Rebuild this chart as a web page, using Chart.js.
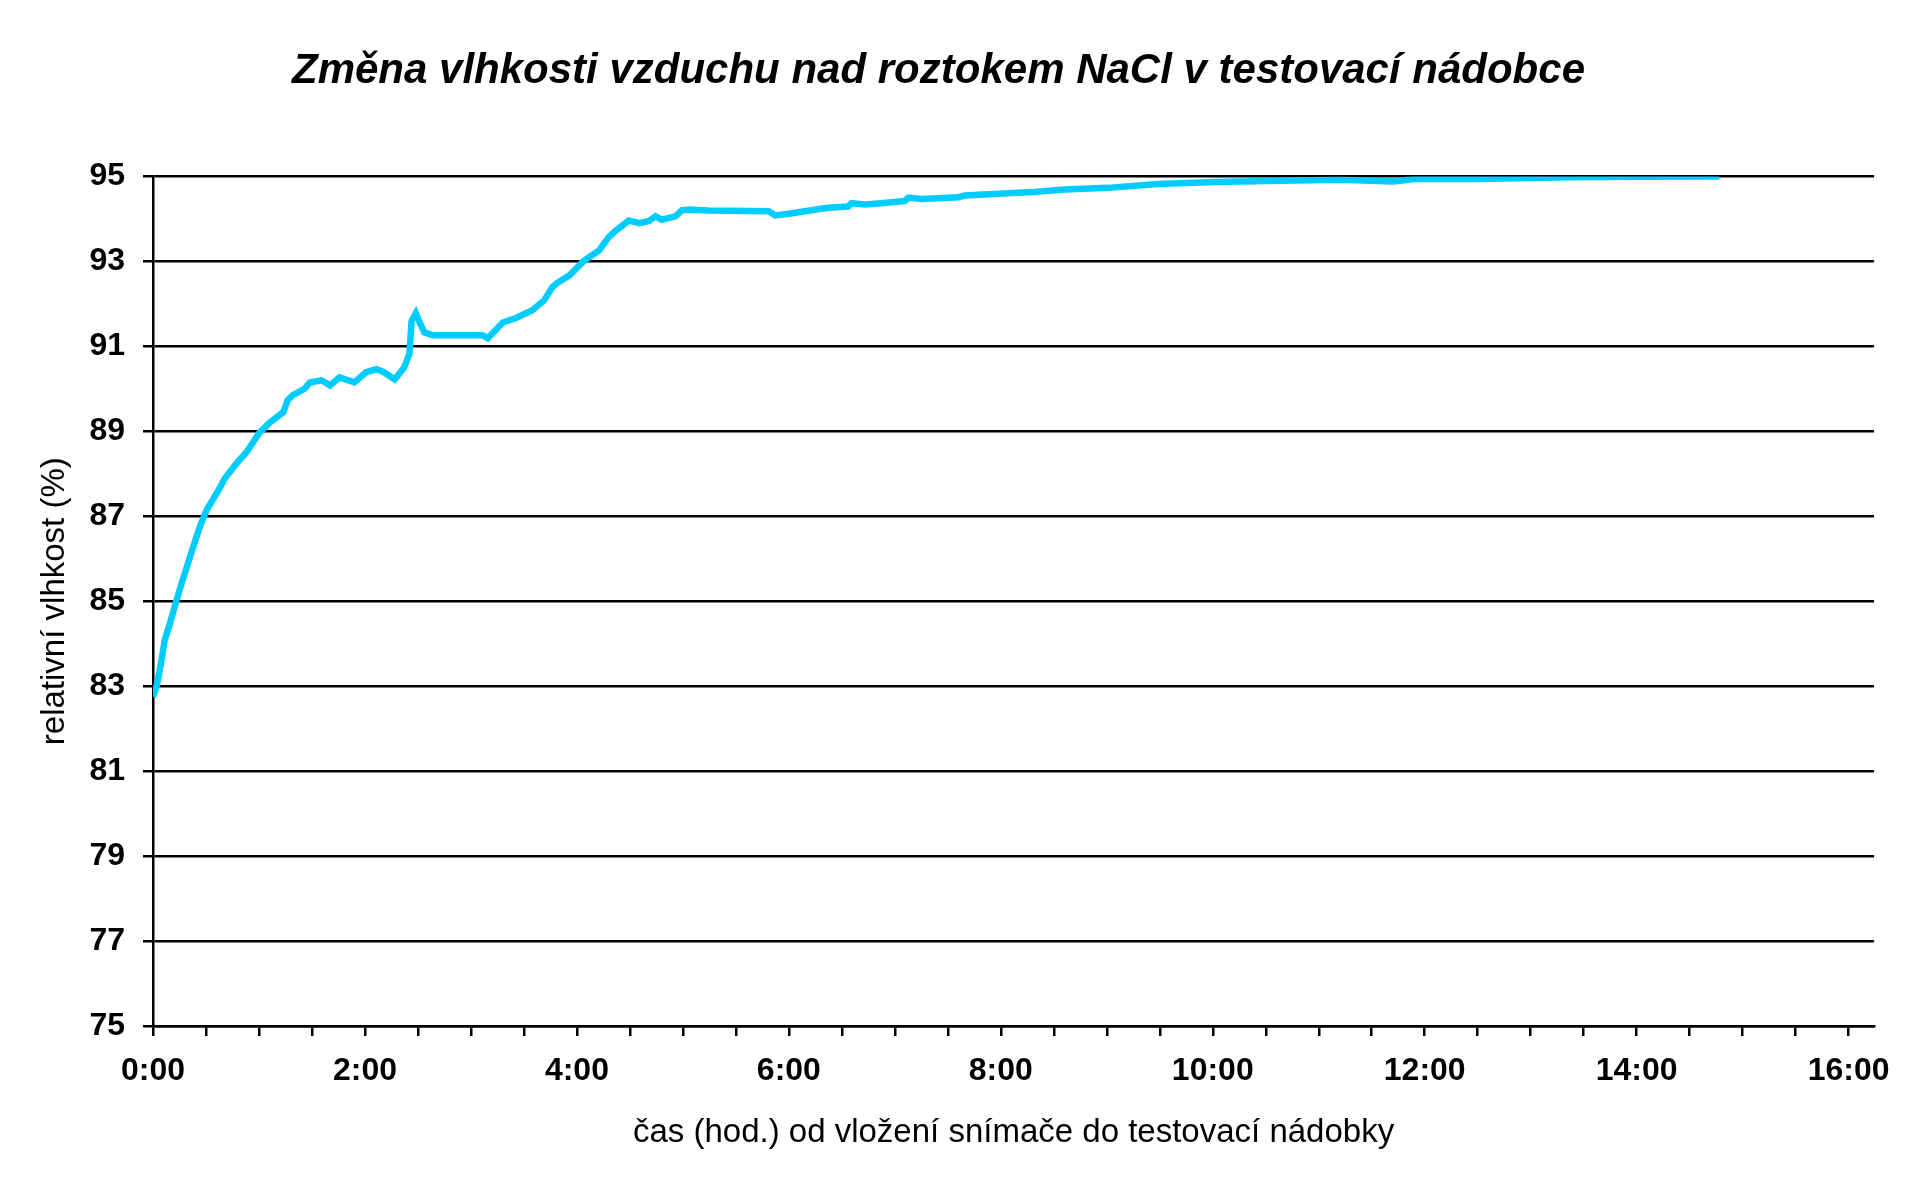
<!DOCTYPE html>
<html>
<head>
<meta charset="utf-8">
<script src="https://cdn.jsdelivr.net/npm/chart.js@4/dist/chart.umd.min.js"></script>
<style>
  html, body { margin: 0; padding: 0; background: #fff; }
  #wrap { width: 1906px; height: 1188px; }
</style>
</head>
<body>
<div id="wrap"><canvas id="chart"></canvas></div>
<script>
// hours since the sensor was put into the test vessel
const hours = [
  0.00, 0.035, 0.08, 0.11, 0.16, 0.22, 0.27, 0.35, 0.44, 0.505,
  0.615, 0.68, 0.79, 0.88, 1.00, 1.10, 1.23, 1.27, 1.32, 1.43,
  1.48, 1.59, 1.67, 1.76, 1.90, 2.01, 2.11, 2.18, 2.28, 2.37,
  2.42, 2.44, 2.48, 2.51, 2.56, 2.64, 3.11, 3.16, 3.30, 3.42,
  3.58, 3.69, 3.77, 3.82, 3.93, 4.06, 4.21, 4.30, 4.37, 4.49,
  4.59, 4.68, 4.74, 4.80, 4.93, 4.99, 5.06, 5.24, 5.81, 5.87,
  6.00, 6.15, 6.37, 6.56, 6.59, 6.72, 6.87, 7.09, 7.13, 7.25,
  7.60, 7.66, 7.98, 8.29, 8.60, 9.01, 9.48, 10.02, 10.64, 11.20,
  11.71, 11.90, 12.53, 13.34, 14.00, 14.78
];
// relative humidity (%)
const humidity = [
  82.75, 83.00, 83.60, 84.08, 84.48, 85.00, 85.42, 86.05, 86.74, 87.14,
  87.60, 87.90, 88.25, 88.50, 88.95, 89.20, 89.45, 89.73, 89.85, 90.00,
  90.15, 90.20, 90.08, 90.27, 90.15, 90.39, 90.46, 90.39, 90.22, 90.50,
  90.83, 91.60, 91.78, 91.60, 91.33, 91.26, 91.26, 91.19, 91.56, 91.66,
  91.85, 92.08, 92.40, 92.50, 92.67, 93.00, 93.26, 93.57, 93.73, 93.96,
  93.90, 93.95, 94.06, 93.98, 94.06, 94.20, 94.22, 94.20, 94.18, 94.08,
  94.12, 94.18, 94.26, 94.29, 94.37, 94.34, 94.37, 94.42, 94.50, 94.47,
  94.51, 94.55, 94.59, 94.63, 94.69, 94.73, 94.82, 94.87, 94.90, 94.92,
  94.88, 94.94, 94.94, 94.98, 94.99, 95.00
];
const yMin = 75;
const yMax = 95;
const yStep = 2;
const xMax = 16.24;
const xStep = 0.5;

const FONT = 'Liberation Sans, Arial, sans-serif';
const points = hours.map((h, i) => ({ x: h, y: humidity[i] }));

new Chart(document.getElementById('chart'), {
  type: 'line',
  data: {
    datasets: [{
      label: 'relativní vlhkost',
      data: points,
      borderColor: '#00CCFF',
      borderWidth: 6.5,
      pointRadius: 0,
      tension: 0,
      fill: false,
    }],
  },
  options: {
    responsive: true,
    maintainAspectRatio: false,
    animation: false,
    layout: {
      padding: { left: 0, right: 29, top: 0, bottom: 0 },
    },
    plugins: {
      legend: { display: false },
      tooltip: { enabled: false },
      title: {
        display: true,
        text: 'Změna vlhkosti vzduchu nad roztokem NaCl v testovací nádobce',
        color: '#000',
        font: { family: FONT, size: 42, weight: 'bold', style: 'italic' },
        padding: { top: 46, bottom: 80 },
      },
    },
    scales: {
      x: {
        type: 'linear',
        min: 0,
        max: xMax,
        afterFit: (scale) => { scale.height = 162; },
        ticks: {
          stepSize: xStep,
          includeBounds: false,
          autoSkip: false,
          maxRotation: 0,
          color: '#000',
          padding: 16,
          font: { family: FONT, size: 32, weight: 'bold' },
          callback: (v) => (v % 2 === 0 ? v + ':00' : ''),
        },
        grid: {
          drawOnChartArea: false,
          drawTicks: true,
          tickLength: 10,
          color: '#000',
          lineWidth: 2.5,
        },
        border: { display: true, color: '#000', width: 2.5 },
        title: {
          display: true,
          text: 'čas (hod.) od vložení snímače do testovací nádobky',
          color: '#000',
          font: { family: FONT, size: 33 },
          padding: { top: 0, bottom: 35 },
        },
      },
      y: {
        min: yMin,
        max: yMax,
        afterFit: (scale) => { scale.width = 153; },
        ticks: {
          stepSize: yStep,
          color: '#000',
          padding: 18,
          font: { family: FONT, size: 32, weight: 'bold' },
        },
        grid: {
          drawTicks: true,
          tickLength: 10,
          color: '#000',
          lineWidth: 2.5,
        },
        border: { display: true, color: '#000', width: 2.5 },
        title: {
          display: true,
          text: 'relativní vlhkost (%)',
          color: '#000',
          font: { family: FONT, size: 33 },
          padding: { top: 35, bottom: 0 },
        },
      },
    },
  },
});
</script>
</body>
</html>
